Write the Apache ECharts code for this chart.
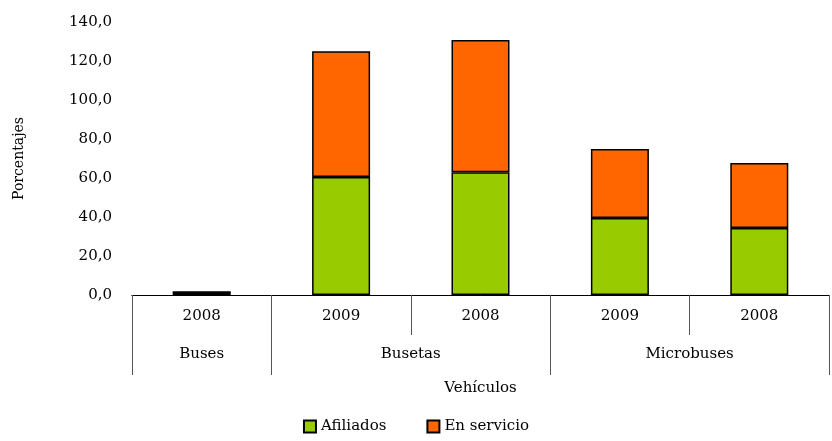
<!DOCTYPE html>
<html><head><meta charset="utf-8">
<script src="https://cdn.jsdelivr.net/npm/echarts@6/dist/echarts.min.js"></script>
<style>html,body{margin:0;padding:0;background:#fff}#c{width:832px;height:441px}</style>
</head><body><div id="c"></div>
<script>
const years = ['2008','2009','2008','2009','2008'];
const groups = ['Buses','Busetas','Microbuses'];
const afiliados = [1.6, 60.5, 63.0, 39.5, 34.4];
const enServicio = [0, 64.5, 67.8, 35.4, 33.3];
const F = 'DejaVu Serif';
const chart = echarts.init(document.getElementById('c'));
chart.setOption({
  animation:false,
  textStyle:{fontFamily:F},
  grid:{left:132,right:0,top:22,bottom:146},
  legend:{bottom:2,left:'center',itemWidth:12,itemHeight:12,itemGap:40,
    textStyle:{fontFamily:F,fontSize:15,color:'#000'},
    data:[{name:'Afiliados',icon:'rect'},{name:'En servicio',icon:'rect'}]},
  xAxis:[
    {type:'category',data:years,position:'bottom',
     axisLine:{show:true,lineStyle:{color:'#000'}},
     axisTick:{show:true,length:40,alignWithLabel:false,interval:0,lineStyle:{color:'#555'}},
     axisLabel:{fontFamily:F,fontSize:15,color:'#000',margin:14}},
    {type:'category',data:years,position:'bottom',
     axisLine:{show:true,lineStyle:{color:'#000'}},axisLabel:{show:false},
     axisTick:{show:true,length:80,alignWithLabel:false,interval:function(i){return i===0||i===1||i===3||i===5;},lineStyle:{color:'#555'}}},
    {type:'value',min:0,max:5,interval:0.5,position:'bottom',offset:40,
     axisLine:{show:false},axisTick:{show:false},splitLine:{show:false},
     name:'Vehículos',nameLocation:'middle',nameGap:46,
     nameTextStyle:{fontFamily:F,fontSize:15,color:'#000'},
     axisLabel:{fontFamily:F,fontSize:15,color:'#000',margin:12,showMinLabel:true,showMaxLabel:true,
       formatter:function(v){if(Math.abs(v-0.5)<1e-6)return groups[0];if(Math.abs(v-2)<1e-6)return groups[1];if(Math.abs(v-4)<1e-6)return groups[2];return '';}}}
  ],
  yAxis:{type:'value',min:0,max:140,interval:20,
    name:'Porcentajes',nameLocation:'middle',nameGap:106,
    nameTextStyle:{fontFamily:F,fontSize:14,color:'#000'},
    axisLine:{show:false},axisTick:{show:false},splitLine:{show:false},
    axisLabel:{fontFamily:F,fontSize:15,color:'#000',margin:20,
      formatter:function(v){return v.toFixed(1).replace('.',',');}}},
  series:[
    {name:'Afiliados',type:'bar',stack:'a',data:afiliados,barWidth:58,
     itemStyle:{color:'#99CC00',borderColor:'#000',borderWidth:1.5}},
    {name:'En servicio',type:'bar',stack:'a',data:enServicio,barWidth:58,
     itemStyle:{color:'#FF6600',borderColor:'#000',borderWidth:1.5}}
  ]
});
</script></body></html>
